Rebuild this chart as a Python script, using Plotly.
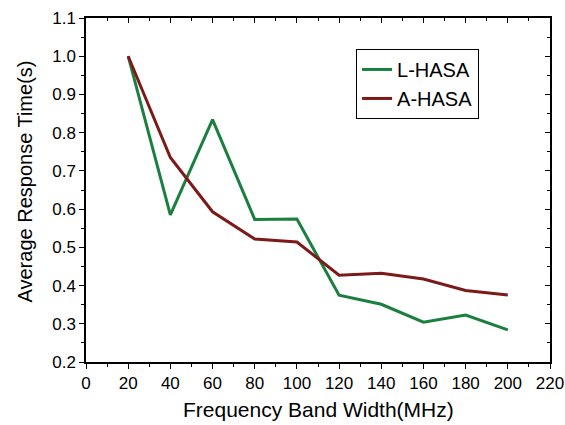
import plotly.graph_objects as go

x_vals = [20, 40, 60, 80, 100, 120, 140, 160, 180, 200]
l_hasa = [1.0, 0.585, 0.834, 0.573, 0.574, 0.375, 0.351, 0.304, 0.323, 0.284]
a_hasa = [1.0, 0.735, 0.593, 0.522, 0.514, 0.427, 0.432, 0.417, 0.387, 0.375]
x_ticks = list(range(0, 221, 20))
y_ticks = [0.2, 0.3, 0.4, 0.5, 0.6, 0.7, 0.8, 0.9, 1.0, 1.1]
x_title = "Frequency Band Width(MHz)"
y_title = "Average Response Time(s)"

FONT = "Liberation Sans, Arial, sans-serif"
fig = go.Figure()
fig.add_trace(go.Scatter(x=x_vals, y=l_hasa, mode="lines", name="L-HASA",
                         line=dict(color="#1a7f3f", width=3)))
fig.add_trace(go.Scatter(x=x_vals, y=a_hasa, mode="lines", name="A-HASA",
                         line=dict(color="#7c1a1a", width=3)))
fig.add_trace(go.Scatter(x=[None], y=[None], xaxis="x2", yaxis="y2",
                         showlegend=False, hoverinfo="skip"))

common = dict(showgrid=False, zeroline=False, showline=True, linecolor="black",
              linewidth=1.5, tickcolor="black", tickwidth=1, automargin=False)

fig.update_layout(
    width=565, height=425,
    margin=dict(l=86, r=15, t=18, b=63),
    paper_bgcolor="white", plot_bgcolor="white",
    font=dict(family=FONT, color="black"),
    showlegend=True,
    legend=dict(x=0.582, y=0.91, xanchor="left", yanchor="top",
                bordercolor="black", borderwidth=1, bgcolor="white",
                font=dict(size=20, family=FONT), tracegroupgap=0),
    xaxis=dict(range=[0, 220], tickvals=x_ticks,
               ticks="outside", ticklen=5,
               minor=dict(dtick=10, ticks="outside", ticklen=3, tickcolor="black"),
               tickfont=dict(size=17, family=FONT),
               **common),
    yaxis=dict(range=[0.2, 1.1], tickvals=y_ticks, tickformat=".1f",
               ticks="outside", ticklen=5,
               minor=dict(dtick=0.05, ticks="outside", ticklen=3, tickcolor="black"),
               tickfont=dict(size=17, family=FONT),
               **common),
    xaxis2=dict(range=[0, 220], overlaying="x", side="top", anchor="y",
                tickvals=x_ticks, ticks="inside", ticklen=5, showticklabels=False,
                minor=dict(dtick=10, ticks="inside", ticklen=3, tickcolor="black"),
                **common),
    yaxis2=dict(range=[0.2, 1.1], overlaying="y", side="right", anchor="x",
                tickvals=y_ticks, ticks="inside", ticklen=5, showticklabels=False,
                minor=dict(dtick=0.05, ticks="inside", ticklen=3, tickcolor="black"),
                **common),
    annotations=[
        dict(text=x_title, xref="paper", yref="paper", x=0.502, y=-0.1395,
             xanchor="center", yanchor="middle", showarrow=False,
             font=dict(size=21, family=FONT)),
        dict(text=y_title, xref="paper", yref="paper", x=-0.1315, y=0.5247,
             xanchor="center", yanchor="middle", showarrow=False, textangle=-90,
             font=dict(size=20, family=FONT)),
    ],
)

fig.write_html("out.html", config={"displayModeBar": False},
               post_script="document.body.style.margin='0';document.body.style.overflow='hidden';")
